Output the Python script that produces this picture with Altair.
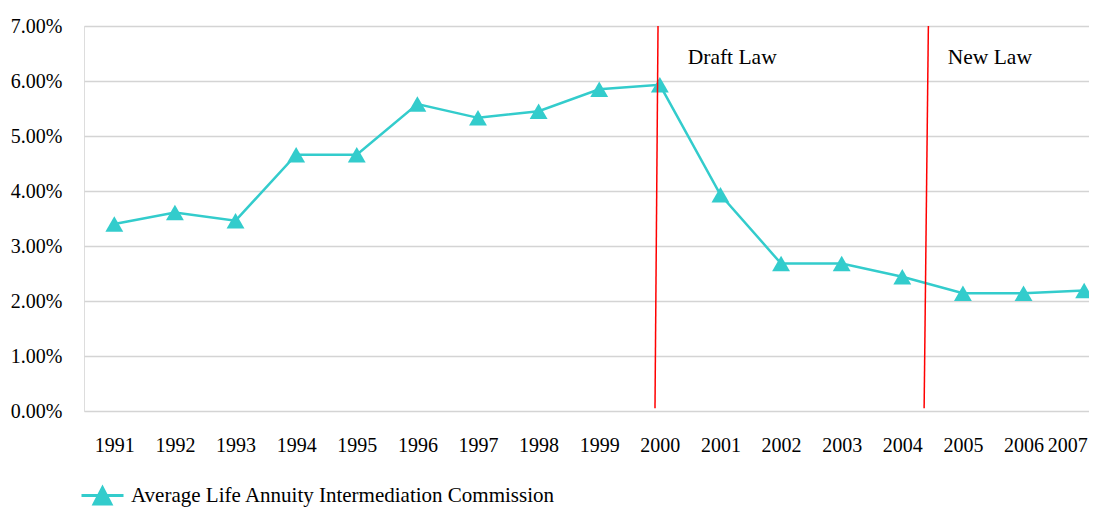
import altair as alt
import pandas as pd

years = list(range(1991, 2008))
commission = [0.0340, 0.0361, 0.0346, 0.0466, 0.0466, 0.0558, 0.0533, 0.0545, 0.0585,
              0.0593, 0.0393, 0.0268, 0.0268, 0.0244, 0.0214, 0.0214, 0.0219]
series_name = "Average Life Annuity Intermediation Commission"

law_labels = ["Draft Law", "New Law"]
law_x_top = [1999.97, 2004.43]
law_x_bottom = [1999.92, 2004.36]
law_label_x = [2000.46, 2004.75]
law_label_y = [0.0642, 0.0642]

df = pd.DataFrame({"year": years, "value": commission, "series": [series_name] * len(years)})
laws = pd.DataFrame({"label": law_labels, "xt": law_x_top, "xb": law_x_bottom,
                     "lx": law_label_x, "ly": law_label_y,
                     "yt": [0.07] * 2, "yb": [0.0005] * 2})

FONT = "Liberation Serif"
TEAL = "#33CCCC"

xscale = alt.Scale(domain=[1990.5, 2007.08], nice=False, zero=False)
yscale = alt.Scale(domain=[0, 0.07], nice=False)

xaxis = alt.Axis(values=years, format="d", title=None, grid=False, ticks=False, domain=False,
                 labelFont=FONT, labelFontSize=20, labelColor="black", labelPadding=24,
                 labelOffset={"condition": {"test": "datum.value == 2007", "value": -17}, "value": 0})
yaxis = alt.Axis(values=[0, 0.01, 0.02, 0.03, 0.04, 0.05, 0.06, 0.07], format=".2%", title=None,
                 ticks=False, domain=False, grid=True, gridColor="#d4d4d4", gridWidth=1.5,
                 labelFont=FONT, labelFontSize=20, labelColor="black", labelPadding=22)

legend_path = "M-1,0H1M-0.4,0.4L0,-0.37L0.4,0.4Z"

color = alt.Color("series:N", scale=alt.Scale(range=[TEAL]),
                  legend=alt.Legend(title=None, orient="none", legendX=-4, legendY=447,
                                    symbolType=legend_path, symbolSize=1764,
                                    symbolStrokeWidth=3, symbolFillColor=TEAL,
                                    symbolStrokeColor=TEAL, labelFont=FONT,
                                    labelFontSize=21, labelColor="black", labelOffset=6,
                                    labelLimit=800))

base = alt.Chart(df).encode(
    x=alt.X("year:Q", scale=xscale, axis=xaxis),
    y=alt.Y("value:Q", scale=yscale, axis=yaxis),
    color=color,
)
line = base.mark_line(strokeWidth=2.5)
pts = base.mark_point(shape="triangle-up", filled=True, size=320, opacity=1)

rules = alt.Chart(laws).mark_rule(color="#FF0000", strokeWidth=1.5).encode(
    x=alt.X("xt:Q", scale=xscale), x2="xb:Q",
    y=alt.Y("yt:Q", scale=yscale), y2="yb:Q",
)
texts = alt.Chart(laws).mark_text(font=FONT, fontSize=21.5, color="black", align="left",
                                  baseline="middle").encode(
    x=alt.X("lx:Q", scale=xscale), y=alt.Y("ly:Q", scale=yscale), text="label:N"
)

chart = alt.layer(line, pts, rules, texts).properties(
    width=1005, height=385,
    autosize=alt.AutoSizeParams(type="none"),
    padding={"left": 76, "top": 18, "right": 0, "bottom": 96},
).configure_view(stroke=None).configure(background="white")

chart.save("out.html", embed_options={"renderer": "svg", "actions": False})
